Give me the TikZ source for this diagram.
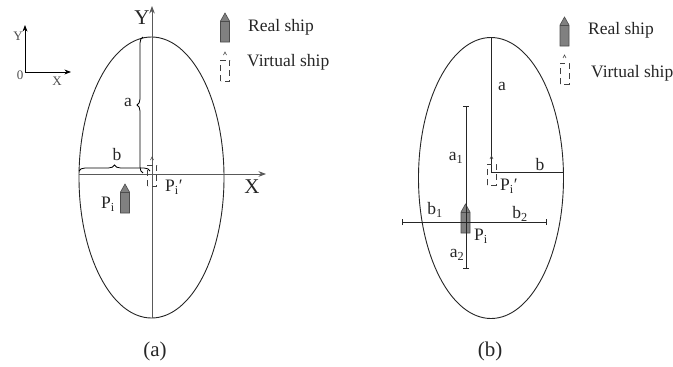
\documentclass[tikz,border=0pt]{standalone}
\usepackage{fontspec}
\setmainfont{Liberation Serif}
\usepackage{tikz}
\usetikzlibrary{positioning,arrows.meta,calc,shapes.geometric,decorations.pathreplacing}

\begin{document}
\begin{tikzpicture}[
    x=1pt, y=-1pt,
    >=Stealth,
    orbit/.style={draw, ellipse, line width=0.9pt, black!85, inner sep=0pt, minimum width=145pt, minimum height=281pt},
    lbl/.style={font=\fontsize{17.5}{20}\selectfont, inner sep=0pt, text=black!85},
    lblbig/.style={font=\fontsize{21}{24}\selectfont, inner sep=0pt, text=black!85},
    lblsmall/.style={font=\fontsize{13}{15}\selectfont, inner sep=0pt, text=black!70},
    axisline/.style={->, line width=1pt, black!65},
    guide/.style={line width=0.8pt, black!85},
    endbar/.style={line width=0.8pt, black!85, {Bar[width=6pt]}-{Bar[width=6pt]}},
    bracepath/.style={line width=0.8pt, decorate, decoration={brace, amplitude=6pt}},
    realship/.pic={
      \draw[line width=0.6pt, black!70, fill=black!50] (-4.5,21) -- (-4.5,0) -- (0,-8) -- (4.5,0) -- (4.5,21) -- cycle;
      \draw[line width=0.6pt, black!70] (-4.5,0) -- (4.5,0);
    },
    virtualship/.pic={
      \draw[line width=0.6pt, black!75, dash pattern=on 6pt off 4pt] (-4.5,21) -- (-4.5,0) -- (4.5,0) -- (4.5,21) -- cycle;
      \draw[line width=0.6pt, black!75] (-1.5,-5) -- (0,-8) -- (1.5,-5);
    }
  ]
    \useasboundingbox (0,0) rectangle (673,367);

    % small axes
    \coordinate (orig) at (25,72);
    \coordinate (origY) at (25,25);
    \coordinate (origX) at (71,72);
    \draw[->, line width=0.8pt] (orig) -- (origY);
    \draw[->, line width=0.8pt] (orig) -- (origX);
    \node[lblsmall] (smallY) at (18,36) {Y};
    \node[lblsmall] (smallO) at (20,75) {0};
    \node[lblsmall] (smallX) at (57,81) {X};

    % panel (a)
    \node[orbit] (ella) at (151.5,177.5) {};
    \coordinate (aO) at (152,174);
    \coordinate (aYtop) at (152,6);
    \coordinate (aYbot) at (152,318);
    \coordinate (aXleft) at (79,174);
    \coordinate (aXright) at (266,174);
    \draw[axisline] (aYbot) -- (aYtop);
    \draw[axisline] (aXleft) -- (aXright);
    \draw[bracepath] (143,173) -- (143,37);
    \draw[bracepath] (79,171) -- (150,171);
    \node[lblbig] (bigY) at (142,18) {Y};
    \node[lblbig] (bigX) at (252,187) {X};
    \node[lbl] (la) at (128,102) {a};
    \node[lbl] (lb) at (117,155) {b};
    \pic at (125,192) {realship};
    \pic at (152,165) {virtualship};
    \node[lbl, anchor=west] (Pa) at (165,187) {P\textsubscript{i}′};
    \node[lbl] (Pia) at (108,204) {P\textsubscript{i}};
    \pic at (225,21) {realship};
    \pic at (225,60) {virtualship};
    \node[lbl, anchor=west] (reala) at (248,27) {Real ship};
    \node[lbl, anchor=west] (virta) at (247,62) {Virtual ship};
    \node[lblbig] (capa) at (155,351) {(a)};

    % panel (b)
    \node[orbit] (ellb) at (491,178) {};
    \coordinate (bO) at (491,172);
    \coordinate (bT) at (491,38);
    \coordinate (bR) at (564,172);
    \coordinate (a1top) at (466,106);
    \coordinate (a2bot) at (466,269);
    \coordinate (b1left) at (402,222);
    \coordinate (b2right) at (547,222);
    \pic at (465.5,212) {realship};
    \draw[guide] (bT) -- (bO) -- (bR);
    \draw[endbar] (a1top) -- (a2bot);
    \draw[endbar] (b1left) -- (b2right);
    \pic at (491.5,164) {virtualship};
    \node[lbl] (lab) at (502,86) {a};
    \node[lbl] (lbb) at (540,165) {b};
    \node[lbl] (la1) at (456,158) {a\textsubscript{1}};
    \node[lbl] (la2) at (457,255) {a\textsubscript{2}};
    \node[lbl] (lb1) at (435,210) {b\textsubscript{1}};
    \node[lbl] (lb2) at (520,214) {b\textsubscript{2}};
    \node[lbl, anchor=west] (Pb) at (500,186) {P\textsubscript{i}′};
    \node[lbl] (Pib) at (481,236) {P\textsubscript{i}};
    \pic at (564.5,25) {realship};
    \pic at (564.5,63) {virtualship};
    \node[lbl, anchor=west] (realb) at (588,30) {Real ship};
    \node[lbl, anchor=west] (virtb) at (591,73) {Virtual ship};
    \node[lblbig] (capb) at (490,351) {(b)};
  \end{tikzpicture}
\end{document}
